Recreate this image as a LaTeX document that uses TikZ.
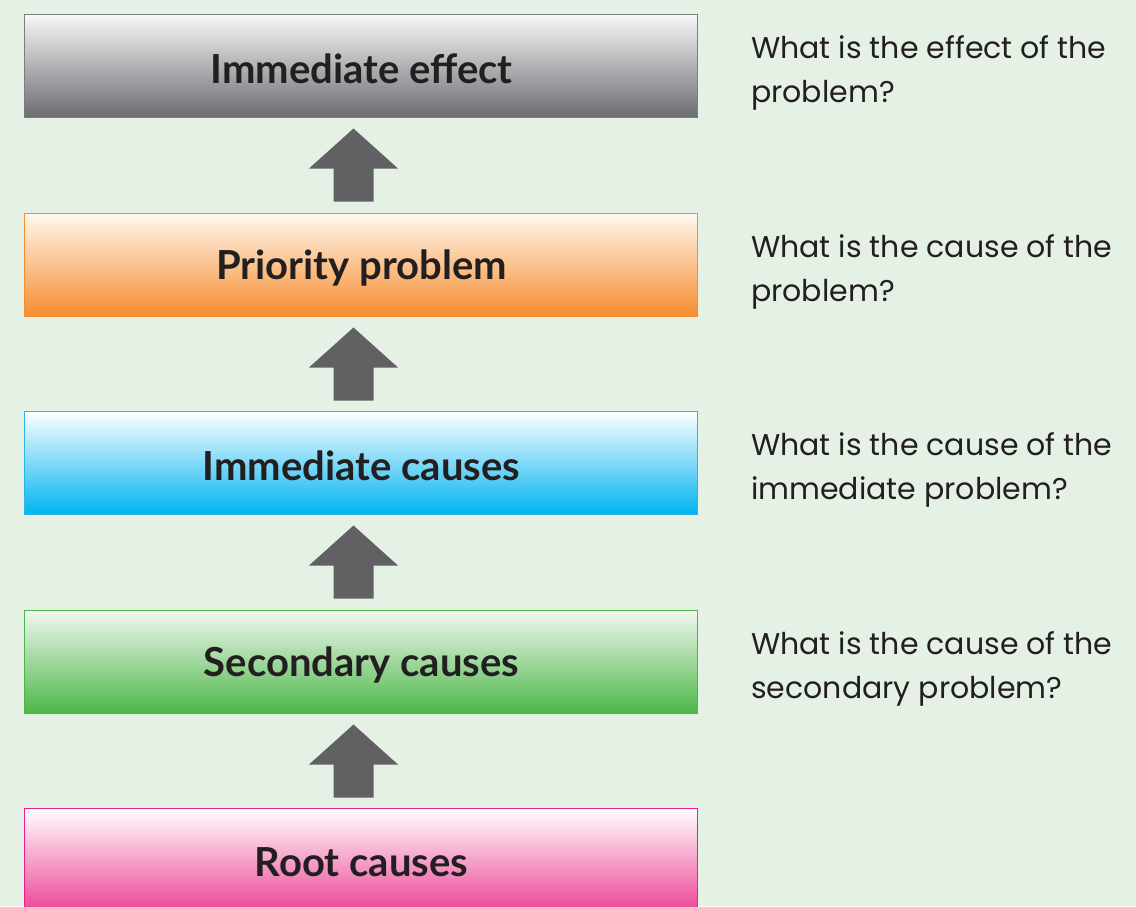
\documentclass[tikz,border=0pt]{standalone}
\usepackage{fontspec}
\setmainfont{Poppins}
\newfontfamily\boxfont{Lato}[BoldFont={Lato Bold}]
\usetikzlibrary{calc}
\definecolor{bg}{RGB}{230,241,229}
\definecolor{arrowgray}{RGB}{97,97,99}
\definecolor{txt}{RGB}{35,31,32}
\definecolor{grayA}{RGB}{248,248,250}
\definecolor{grayB}{RGB}{108,109,113}
\definecolor{grayD}{RGB}{125,125,128}
\definecolor{orA}{RGB}{255,248,240}
\definecolor{orB}{RGB}{246,141,46}
\definecolor{blA}{RGB}{255,255,255}
\definecolor{blM}{RGB}{120,210,245}
\definecolor{blB}{RGB}{0,180,239}
\definecolor{blD}{RGB}{43,181,232}
\definecolor{grA}{RGB}{242,248,240}
\definecolor{grB}{RGB}{76,183,72}
\definecolor{piA}{RGB}{255,255,255}
\definecolor{piB}{RGB}{236,70,150}
\definecolor{piD}{RGB}{236,30,140}
\tikzset{
  levelbox/.style={minimum width=673pt, minimum height=103pt, inner sep=0pt,
    line width=1pt},
  boxlabel/.style={inner sep=0pt, text=txt,
    font=\boxfont\bfseries\fontsize{40}{44}\selectfont},
  question/.style={anchor=north west, align=left, inner sep=0pt, text=txt,
    font=\fontsize{30}{44.5}\selectfont},
  uparrowfill/.style={fill=arrowgray}
}
\newcommand{\blockarrow}[1]{%
  \fill[uparrowfill] ($(#1.south)+(-7,11)$) -- ++(44.5,40) -- ++(-24.5,0) -- ++(0,33)
    -- ++(-40,0) -- ++(0,-33) -- ++(-24.5,0) -- cycle;}
\begin{document}
\begin{tikzpicture}[x=1pt,y=-1pt]
\useasboundingbox (0,0) rectangle (1136,906);
\clip (0,0) rectangle (1136,906);
\fill[bg] (0,0) rectangle (1136,906);
\node[levelbox, draw=grayD, top color=grayA, bottom color=grayB] (b1) at (360.5,65.5) {};
\node[levelbox, draw=orB, top color=orA, bottom color=orB] (b2) at (360.5,264.5) {};
\node[levelbox, draw=blD, top color=blA, middle color=blM, bottom color=blB] (b3) at (360.5,462.5) {};
\node[levelbox, draw=grB, top color=grA, bottom color=grB] (b4) at (360.5,661.5) {};
\node[levelbox, draw=piD, top color=piA, bottom color=piB] (b5) at (360.5,859.5) {};
\node[boxlabel] (l1) at ($(b1.center)+(1,3)$) {Immediate effect};
\node[boxlabel] (l2) at ($(b2.center)+(1,3)$) {Priority problem};
\node[boxlabel] (l3) at ($(b3.center)+(1,3)$) {Immediate causes};
\node[boxlabel] (l4) at ($(b4.center)+(1,3)$) {Secondary causes};
\node[boxlabel] (l5) at ($(b5.center)+(1,3)$) {Root causes};
\blockarrow{b1}
\blockarrow{b2}
\blockarrow{b3}
\blockarrow{b4}
\node[question] (q1) at (751,35) {What is the effect of the\\problem?};
\node[question] (q2) at (751,234) {What is the cause of the\\problem?};
\node[question] (q3) at (751,432) {What is the cause of the\\immediate problem?};
\node[question] (q4) at (751,631) {What is the cause of the\\secondary problem?};
\end{tikzpicture}
\end{document}
